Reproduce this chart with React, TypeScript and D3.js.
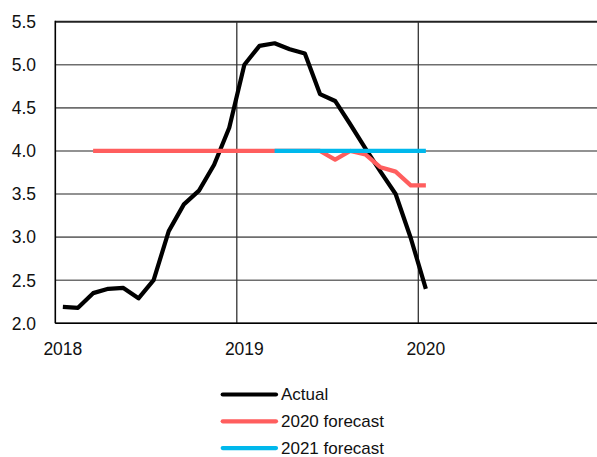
import React from "react";
import * as d3 from "d3";

// Monthly data, Jan 2018 onward (values plotted mid-month)
const actualStart = "2018-01";
const actual = [
  2.19, 2.18, 2.35, 2.40, 2.41, 2.29, 2.50, 3.07, 3.38, 3.54, 3.84, 4.27,
  5.00, 5.22, 5.25, 5.18, 5.13, 4.66, 4.58, 4.31, 4.03, 3.76, 3.50, 2.99,
  2.40,
];
const forecast2020Start = "2018-03";
const forecast2020 = [
  4.0, 4.0, 4.0, 4.0, 4.0, 4.0, 4.0, 4.0, 4.0, 4.0,
  4.0, 4.0, 4.0, 4.0, 4.0, 4.0, 3.9, 4.0, 3.96, 3.81, 3.76, 3.6, 3.6,
];
const forecast2021Start = "2019-03";
const forecast2021 = [4.0, 4.0, 4.0, 4.0, 4.0, 4.0, 4.0, 4.0, 4.0, 4.0, 4.0];

const yTicks = [2.0, 2.5, 3.0, 3.5, 4.0, 4.5, 5.0, 5.5];
const xYears = ["2018", "2019", "2020"];
const seriesNames = ["Actual", "2020 forecast", "2021 forecast"];
const seriesColors = ["#000000", "#FF5E5E", "#00B8EC"];

function monthIndex(s: string) {
  const [y, m] = s.split("-").map(Number);
  return (y - 2018) * 12 + (m - 1);
}

export default function App() {
  const W = 597, H = 457;
  const left = 55.3, top = 21.7, bottom = 323.3;
  const monthW = 15.125;
  const x = d3.scaleLinear().domain([0, 36]).range([left, left + 36 * monthW]);
  const y = d3.scaleLinear().domain([2.0, 5.5]).range([bottom, top]);
  const font = "'Liberation Sans', Arial, sans-serif";

  const mk = (start: string, vals: number[]) => {
    const s = monthIndex(start);
    return vals.map((v, i) => [s + i + 0.5, v] as [number, number]);
  };
  const line = d3.line<[number, number]>().x((d) => x(d[0])).y((d) => y(d[1]));
  const series = [
    mk(actualStart, actual),
    mk(forecast2020Start, forecast2020),
    mk(forecast2021Start, forecast2021),
  ];

  return (
    <svg width={W} height={H} style={{ position: "absolute", left: 0, top: 0 }}>
      <rect width={W} height={H} fill="#fff" />
      {yTicks.map((t) => (
        <line key={"g" + t} x1={left} x2={W} y1={y(t)} y2={y(t)}
          stroke={t === 5.5 ? "#222" : "#6e6e6e"} strokeWidth={t === 5.5 ? 2 : 1.6} />
      ))}
      {xYears.slice(1).map((yr) => {
        const xx = x((+yr - 2018) * 12);
        return <line key={"v" + yr} x1={xx} x2={xx} y1={top} y2={bottom} stroke="#333" strokeWidth={1.3} />;
      })}
      <line x1={left} x2={left} y1={top - 1} y2={bottom} stroke="#000" strokeWidth={1.6} />
      <line x1={left} x2={W} y1={bottom} y2={bottom} stroke="#000" strokeWidth={1.6} />
      {yTicks.map((t) => (
        <text key={"t" + t} x={36} y={y(t)} dy="0.36em" textAnchor="end"
          fontFamily={font} fontSize={17.5} fill="#111">{t.toFixed(1)}</text>
      ))}
      {xYears.map((yr) => (
        <text key={"x" + yr} x={x((+yr - 2018) * 12 + 0.5)} y={355} textAnchor="middle"
          fontFamily={font} fontSize={17.5} fill="#111">{yr}</text>
      ))}
      {series.map((s, i) => (
        <path key={"s" + i} d={line(s) || ""} fill="none" stroke={seriesColors[i]}
          strokeWidth={4.2} strokeLinejoin="round" />
      ))}
      {seriesNames.map((n, i) => {
        const cy = 394.5 + i * 26.8;
        return (
          <g key={"l" + n}>
            <line x1={222.7} x2={276} y1={cy} y2={cy} stroke={seriesColors[i]} strokeWidth={4.2} strokeLinecap="round" />
            <text x={281} y={cy} dy="0.35em" fontFamily={font} fontSize={17} fill="#111">{n}</text>
          </g>
        );
      })}
    </svg>
  );
}
